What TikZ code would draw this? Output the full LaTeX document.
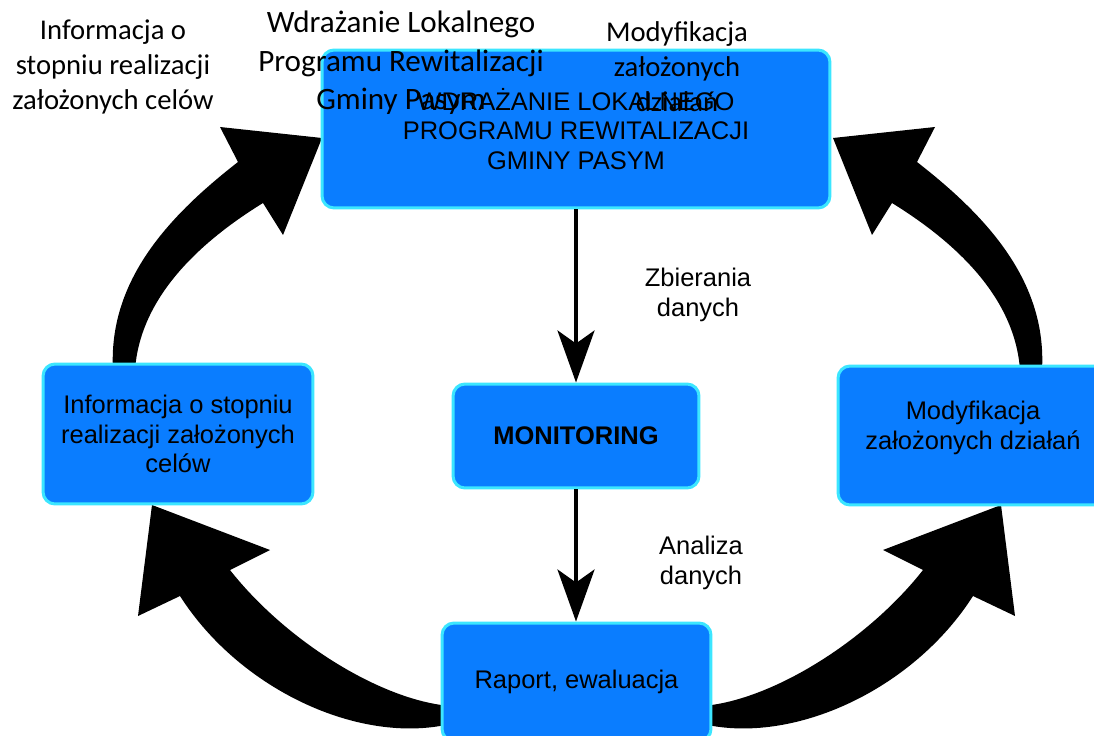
\documentclass[tikz,border=0pt]{standalone}
\usepackage{fontspec}
\setmainfont{Liberation Sans}
\newfontfamily\calfont{Carlito}
\usetikzlibrary{arrows.meta}
\definecolor{boxblue}{RGB}{10,125,255}
\definecolor{boxcyan}{RGB}{60,230,255}
\newcommand{\boxfont}{\fontsize{14.5pt}{17pt}\selectfont}
\begin{document}
\begin{tikzpicture}[x=0.02cm,y=-0.02cm,
  box/.style={draw=boxcyan, fill=boxblue, line width=0.06cm, rounded corners=0.24cm,
    align=center, font=\boxfont, inner sep=0pt},
  thinarrow/.style={line width=0.08cm, -{Stealth[length=1.04cm,width=0.74cm,inset=0.26cm]}},
  lbl/.style={align=center, font=\boxfont, inner sep=0pt},
  ovl/.style={align=center, inner sep=0pt, font=\calfont\fontsize{16.3pt}{19.9pt}\selectfont},
  ovlbig/.style={align=center, inner sep=0pt, font=\calfont\fontsize{17.7pt}{21.8pt}\selectfont},
  bigarrow/.style={fill=black}]
\useasboundingbox (0,0) rectangle (1094,736);
\clip (0,0) rectangle (1094,736);

% big curved arrows
\fill[bigarrow] (113,370) .. controls (108,280) and (170,215) .. (238,162)
  -- (220,127) -- (322,138) -- (283,235) -- (263,203)
  .. controls (195,245) and (140,300) .. (135,370) -- cycle;
\fill[bigarrow] (1042,370) .. controls (1047,280) and (985,215) .. (917,162)
  -- (935,127) -- (833,138) -- (872,235) -- (892,203)
  .. controls (960,245) and (1015,300) .. (1020,370) -- cycle;
\fill[bigarrow] (450,706) .. controls (380,700) and (285,640) .. (230,570)
  -- (270,550) -- (152,505) -- (138,616) -- (180,596)
  .. controls (240,690) and (360,745) .. (450,724) -- cycle;
\fill[bigarrow] (703,706) .. controls (773,700) and (868,640) .. (923,570)
  -- (883,550) -- (1001,505) -- (1015,616) -- (973,596)
  .. controls (913,690) and (793,745) .. (703,724) -- cycle;

% boxes
\node[box, minimum width=10.16cm, minimum height=3.16cm] (top) at (576,129)
  {WDRAŻANIE LOKALNEGO\\PROGRAMU REWITALIZACJI\\GMINY PASYM};
\node[box, minimum width=5.4cm, minimum height=2.8cm] (left) at (178,434)
  {Informacja o stopniu\\realizacji założonych\\celów};
\node[box, minimum width=4.92cm, minimum height=2.08cm, font=\boxfont\bfseries] (mon) at (576,436)
  {MONITORING};
\node[box, minimum width=5.38cm, minimum height=2.36cm] (rap) at (576.5,682)
  {Raport, ewaluacja};
\node[box, minimum width=5.4cm, minimum height=2.78cm,
  label={[lbl, yshift=0.16cm]center:{Modyfikacja\\założonych działań}}] (right) at (973,435.5) {};

% thin arrows
\draw[thinarrow] (top.south) -- (mon.north);
\draw[thinarrow] (mon.south) -- (mon.south |- rap.north);

% labels
\node[lbl] (l1) at (698,295) {Zbierania\\danych};
\node[lbl] (l2) at (701,563) {Analiza\\danych};

% overlay texts
\node[ovl] (o1) at (113,67) {Informacja o\\stopniu realizacji\\założonych celów};
\node[ovlbig] (o2) at (401,63) {Wdrażanie Lokalnego\\Programu Rewitalizacji\\Gminy Pasym};
\node[ovl] (o3) at (677,67) {Modyfikacja\\założonych\\działań};
\end{tikzpicture}
\end{document}
